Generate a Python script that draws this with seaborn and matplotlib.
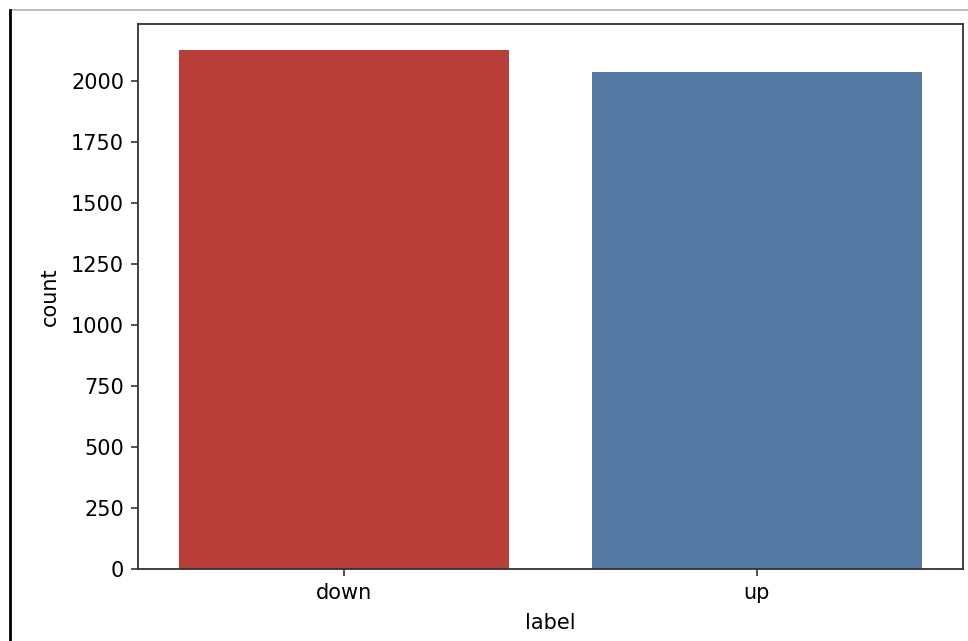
import matplotlib
matplotlib.use("Agg")
import matplotlib.pyplot as plt
from matplotlib.lines import Line2D
import seaborn as sns
import pandas as pd

# Class counts
labels = ["down", "up"]
counts = [2127, 2035]
bar_colors = ["#b93e3a", "#5479a2"]

W, H = 968, 641


def make_chart():
    df = pd.DataFrame({"label": labels, "count": counts})

    plt.rcParams["font.family"] = ["DejaVu Sans"]
    plt.rcParams["font.size"] = 15

    fig = plt.figure(figsize=(W / 100, H / 100), dpi=100)
    ax = fig.add_axes([138 / W, 1 - 569 / H, 825 / W, 545 / H])

    sns.barplot(data=df, x="label", y="count", hue="label",
                palette=bar_colors, saturation=1, legend=False, ax=ax)

    ax.set_ylim(0, max(counts) * 1.05)
    ax.set_yticks(range(0, 2001, 250))
    ax.set_xlabel("label", fontsize=15, labelpad=7)
    ax.set_ylabel("count", fontsize=15, labelpad=8)
    ax.tick_params(axis="both", labelsize=15, length=5, width=1.2, pad=5,
                   color="#333333")
    for side in ax.spines.values():
        side.set_linewidth(1.3)
        side.set_color("#333333")

    # screenshot frame edges
    fig.add_artist(Line2D([10 / W, 1], [1 - 10 / H, 1 - 10 / H],
                          color="#b0b0b0", lw=1.2, transform=fig.transFigure))
    fig.add_artist(Line2D([10 / W, 10 / W], [0, 1 - 10 / H],
                          color="black", lw=2, transform=fig.transFigure))

    fig.savefig("out.png", dpi=100)
    plt.close(fig)


if __name__ == "__main__":
    make_chart()
